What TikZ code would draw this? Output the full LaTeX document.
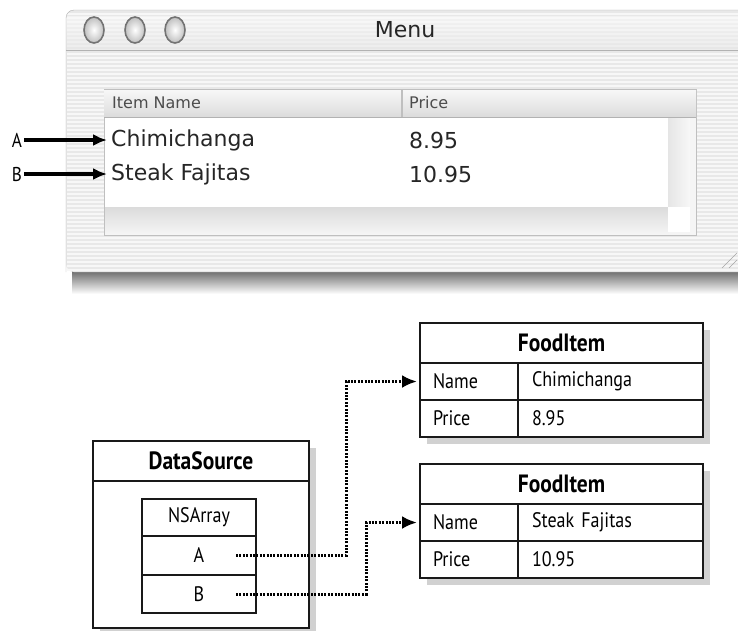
\documentclass[tikz,border=0pt]{standalone}
\usepackage{fontspec}
\setmainfont{PT Sans}
\newfontfamily\macfont{DejaVu Sans}
\newfontfamily\diafont[FakeStretch=0.86]{PT Sans}
\usetikzlibrary{arrows.meta,positioning,calc,backgrounds}

\begin{document}
\begin{tikzpicture}[x=1pt,y=-1pt,
    wintext/.style={font=\macfont\fontsize{22}{24}\selectfont, text=black!85, inner sep=0pt},
    headtext/.style={font=\macfont\fontsize{16}{18}\selectfont, text=black!70, inner sep=0pt},
    cell/.style={draw=black!90, fill=white, line width=2.6pt, inner sep=0pt, outer sep=0pt, anchor=north west},
    celltext/.style={font=\diafont\fontsize{21}{23}\selectfont},
    titletext/.style={font=\diafont\bfseries\fontsize{25}{27}\selectfont},
    keycell/.style={cell, celltext, minimum height=37pt, text width=72pt, inner xsep=13pt, align=left},
    valcell/.style={cell, celltext, minimum height=37pt, text width=157pt, inner xsep=14pt, align=left},
    pointer/.style={-{Latex[length=14pt,width=12pt]}, line width=3.2pt},
    link/.style={-{Latex[length=15pt,width=13pt]}, line width=3pt, dash pattern=on 2pt off 1.4pt},
    boxshadow/.style={fill=black!18}]

    \useasboundingbox (0,0) rectangle (738,630);
    \begin{scope}[on background layer]
        \fill[white] (0,0) rectangle (738,630);
    \end{scope}

    % Window shadow and body
    \shade[top color=black!65, bottom color=white] (72,268) rectangle (738,294);
    \fill[black!9, rounded corners=8pt] (66,10) rectangle (760,272);
    \foreach \y in {14,18,...,270}
        \draw[black!3, line width=1.8pt] (67,\y) -- (738,\y);
    \shade[top color=black!2, bottom color=black!10, opacity=0.6] (66,16) rectangle (738,50);
    \draw[black!30] (66,50) -- (738,50);
    \draw[black!30, rounded corners=8pt] (66,272) -- (66,10) -- (760,10);

    % Traffic lights
    \foreach \x in {94,135,175}
        \shade[inner color=white, outer color=black!25, draw=black!55, line width=1.6pt] (\x,30) ellipse (10 and 13);
    \node[wintext, font=\macfont\fontsize{22}{24}\selectfont] (wintitle) at (405,30) {Menu};

    % Table
    \draw[black!25, fill=black!4] (104,89) rectangle (696,235);
    \shade[top color=black!3, bottom color=black!14] (104,90) rectangle (696,117);
    \draw[black!30] (104,117) -- (696,117);
    \draw[black!25, line width=1.2pt] (402,90) -- (402,117);
    \fill[white] (105,118) rectangle (668,207);
    \shade[left color=black!10, right color=black!3] (668,118) rectangle (690,207);
    \shade[top color=black!14, bottom color=black!4] (105,207) rectangle (668,234);
    \fill[white] (668,207) rectangle (690,232);
    \node[headtext, anchor=west] (hname) at (112,103) {Item Name};
    \node[headtext, anchor=west] (hprice) at (409,103) {Price};
    \node[wintext, anchor=west] (row1) at (111,140) {Chimichanga};
    \node[wintext, anchor=west] (row1price) at (409,140) {8.95};
    \node[wintext, anchor=west] (row2) at (111,174) {Steak Fajitas};
    \node[wintext, anchor=west] (row2price) at (409,174) {10.95};
    \draw[black!35] (722,268) -- (737,253);
    \draw[black!35] (729,268) -- (737,260);

    % Row pointers
    \node[font=\diafont\fontsize{20}{22}\selectfont, inner sep=0pt] (labA) at (17,140) {A};
    \node[font=\diafont\fontsize{20}{22}\selectfont, inner sep=0pt] (labB) at (17,174) {B};
    \draw[pointer] ([xshift=2pt]labA.east) -- ([xshift=-4pt]row1.west);
    \draw[pointer] ([xshift=2pt]labB.east) -- ([xshift=-4pt]row2.west);

    % FoodItem objects
    \node[cell, titletext, minimum width=283pt, minimum height=40pt] (f1title) at (420,323) {FoodItem};
    \node[keycell] (f1namek) at (f1title.south west) {Name};
    \node[valcell] (f1nameval) at (f1namek.north east) {Chimichanga};
    \node[keycell] (f1pricek) at (f1namek.south west) {Price};
    \node[valcell] (f1priceval) at (f1pricek.north east) {8.95};

    \node[cell, titletext, minimum width=283pt, minimum height=40pt] (f2title) at (420,464) {FoodItem};
    \node[keycell] (f2namek) at (f2title.south west) {Name};
    \node[valcell] (f2nameval) at (f2namek.north east) {Steak Fajitas};
    \node[keycell] (f2pricek) at (f2namek.south west) {Price};
    \node[valcell] (f2priceval) at (f2pricek.north east) {10.95};

    % DataSource with its array
    \node[cell, titletext, minimum width=216pt, minimum height=40pt] (dstitle) at (93,441) {DataSource};
    \node[cell, minimum width=216pt, minimum height=147pt] (dsbody) at (dstitle.south west) {};
    \node[cell, celltext, minimum width=114pt, minimum height=37pt] (nshead) at (142,499) {NSArray};
    \node[cell, celltext, minimum width=114pt, minimum height=39pt] (nsA) at (nshead.south west) {A};
    \node[cell, celltext, minimum width=114pt, minimum height=38pt] (nsB) at (nsA.south west) {B};

    % Shadows
    \begin{scope}[on background layer]
        \fill[boxshadow] ([shift={(7,7)}]f1title.north west) rectangle ([shift={(7,7)}]f1priceval.south east);
        \fill[boxshadow] ([shift={(7,7)}]f2title.north west) rectangle ([shift={(7,7)}]f2priceval.south east);
        \fill[boxshadow] ([shift={(7,7)}]dstitle.north west) rectangle ([shift={(7,7)}]dsbody.south east);
    \end{scope}

    % References from the array to the items
    \coordinate (aptr) at ([xshift=-20pt]nsA.east);
    \coordinate (bptr) at ([xshift=-20pt]nsB.east);
    \draw[link] (aptr) -- ++(110,0) |- ([xshift=-3pt]f1namek.west);
    \draw[link] (bptr) -- ++(130,0) |- ([xshift=-3pt]f2namek.west);
\end{tikzpicture}
\end{document}
